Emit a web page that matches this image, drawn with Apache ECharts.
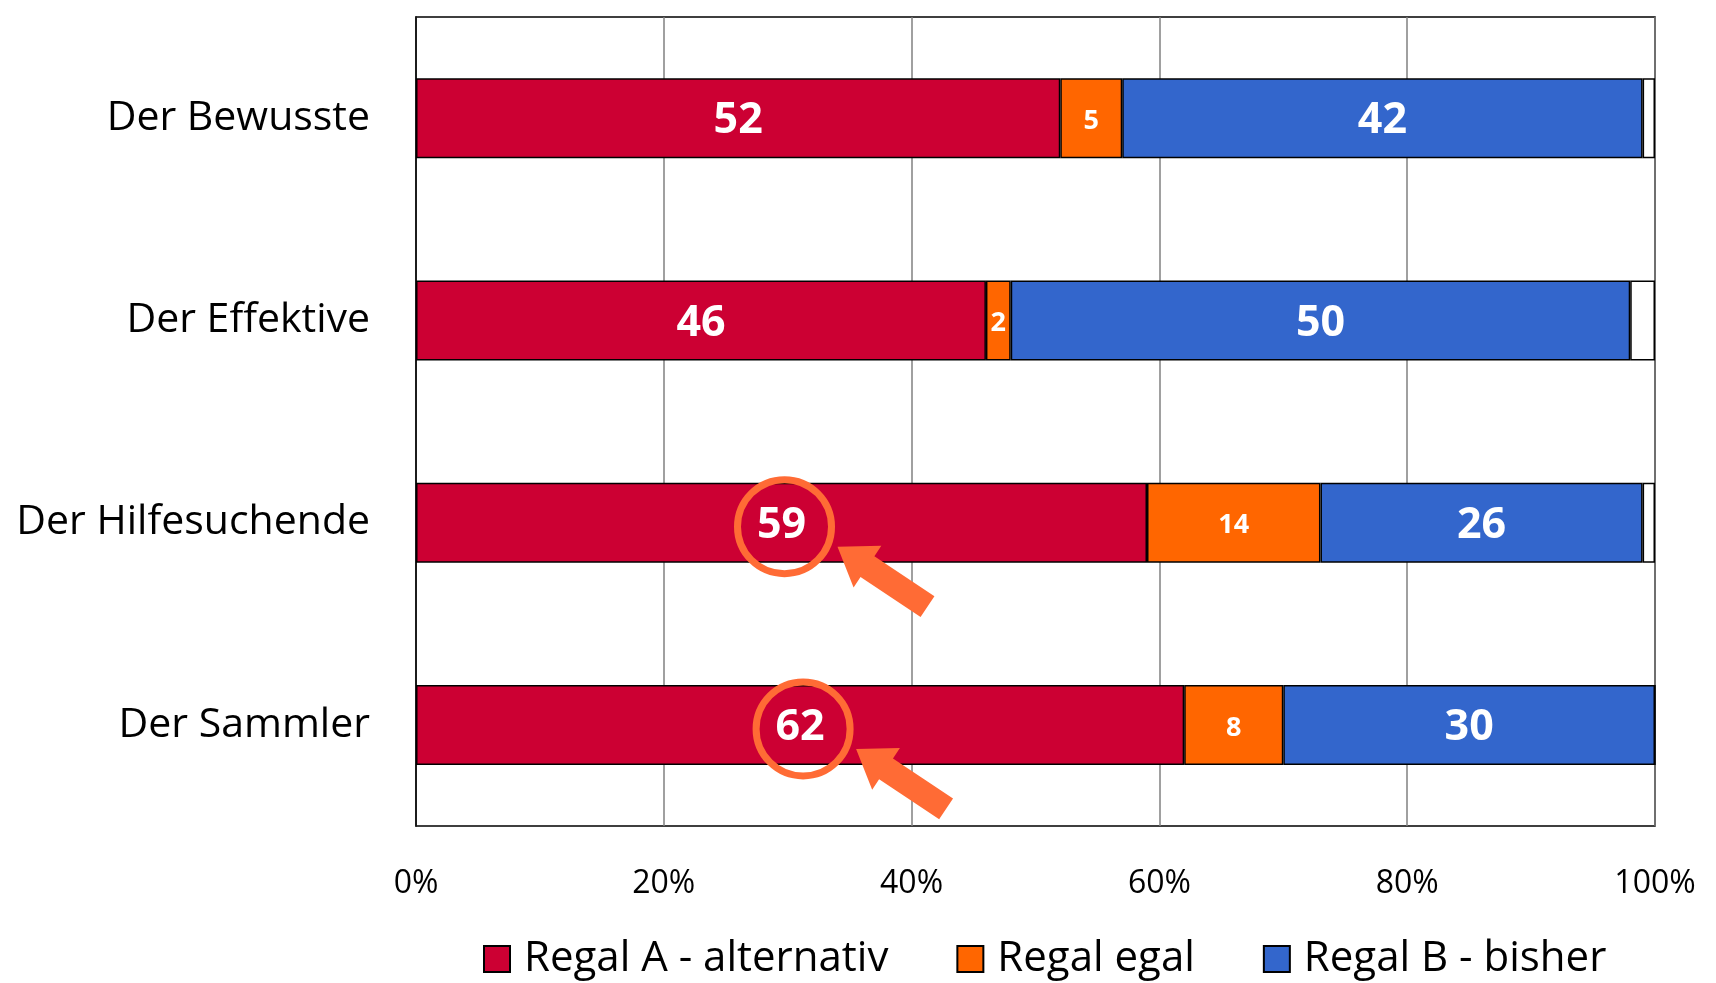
<!DOCTYPE html>
<html>
<head>
<meta charset="utf-8">
<script src="https://cdn.jsdelivr.net/npm/echarts@6/dist/echarts.min.js"></script>
<style>
  html, body { margin: 0; padding: 0; background: #fff; }
  #main { width: 1716px; height: 983px; }
</style>
</head>
<body>
<div id="main"></div>
<script>
// Daten
const categories = ['Der Bewusste', 'Der Effektive', 'Der Hilfesuchende', 'Der Sammler'];
const regalA = [52, 46, 59, 62];
const regalEgal = [5, 2, 14, 8];
const regalB = [42, 50, 26, 30];
const rest = [1, 2, 1, 0]; // weisse Luecke bis 100%
const xTicks = [0, 20, 40, 60, 80, 100];
// markierte Werte (Kreis + Pfeil)
const highlights = ['Der Hilfesuchende', 'Der Sammler'];

const FONT = 'Open Sans';
const ORANGE_MARK = '#FF6B35';

let myChart = echarts.init(document.getElementById('main'));

function bigLabel(size) {
  return {
    show: true,
    position: 'inside',
    color: '#fff',
    fontFamily: FONT,
    fontWeight: 'bold',
    fontSize: size,
    offset: [0, 3]
  };
}

const border = { borderColor: '#000', borderWidth: 1.5 };

let option = {
  animation: false,
  backgroundColor: '#fff',
  textStyle: { fontFamily: FONT },
  grid: {
    left: 416, right: 61, top: 17, bottom: 157,
    show: true, borderColor: '#000', borderWidth: 1.5,
    containLabel: false
  },
  legend: {
    data: ['Regal A - alternativ', 'Regal egal', 'Regal B - bisher'],
    top: 933,
    left: 478,
    icon: 'rect',
    itemWidth: 26,
    itemHeight: 26,
    itemGap: 68,
    textStyle: { fontFamily: FONT, fontSize: 42, color: '#000', padding: [0, 0, 0, 9] }
  },
  xAxis: {
    type: 'value',
    min: 0,
    max: 100,
    interval: 20,
    axisLine: { show: false },
    axisTick: { show: false },
    splitLine: { show: true, lineStyle: { color: '#808080', width: 1.5 } },
    axisLabel: {
      formatter: function (v) { return xTicks.indexOf(v) >= 0 ? v + '%' : ''; },
      fontFamily: FONT, fontSize: 32, color: '#000', margin: 42
    }
  },
  yAxis: {
    type: 'category',
    data: categories,
    inverse: true,
    axisLine: { show: true, lineStyle: { color: '#000', width: 1.5 } },
    axisTick: { show: false },
    axisLabel: { fontFamily: FONT, fontSize: 41, color: '#000', margin: 46 }
  },
  series: [
    {
      name: 'Regal A - alternativ', type: 'bar', stack: 'x', barWidth: 80,
      data: regalA,
      itemStyle: Object.assign({ color: '#CC0033' }, border),
      label: bigLabel(43)
    },
    {
      name: 'Regal egal', type: 'bar', stack: 'x', barWidth: 80,
      data: regalEgal,
      itemStyle: Object.assign({ color: '#FF6600' }, border),
      label: bigLabel(27)
    },
    {
      name: 'Regal B - bisher', type: 'bar', stack: 'x', barWidth: 80,
      data: regalB,
      itemStyle: Object.assign({ color: '#3366CC' }, border),
      label: bigLabel(43)
    },
    {
      name: 'rest', type: 'bar', stack: 'x', barWidth: 80,
      data: rest,
      itemStyle: Object.assign({ color: '#fff' }, border),
      label: { show: false },
      silent: true
    }
  ]
};

myChart.setOption(option);

// Kreis um den Wert und Pfeil darauf
function arrowPoints(tail, tip, shaftW, headW, headL) {
  const dx = tip[0] - tail[0], dy = tip[1] - tail[1];
  const len = Math.sqrt(dx * dx + dy * dy);
  const ux = dx / len, uy = dy / len;
  const px = -uy, py = ux;
  const bx = tip[0] - ux * headL, by = tip[1] - uy * headL;
  return [
    [tail[0] + px * shaftW / 2, tail[1] + py * shaftW / 2],
    [bx + px * shaftW / 2, by + py * shaftW / 2],
    [bx + px * headW / 2, by + py * headW / 2],
    tip,
    [bx - px * headW / 2, by - py * headW / 2],
    [bx - px * shaftW / 2, by - py * shaftW / 2],
    [tail[0] - px * shaftW / 2, tail[1] - py * shaftW / 2]
  ];
}

let graphics = [];
highlights.forEach(function (cat) {
  const i = categories.indexOf(cat);
  const c = myChart.convertToPixel({ gridIndex: 0 }, [regalA[i] / 2, i]);
  graphics.push({
    type: 'circle',
    shape: { cx: c[0] + 3, cy: c[1] + 4, r: 47 },
    style: { fill: 'none', stroke: ORANGE_MARK, lineWidth: 7 },
    z: 100
  });
  graphics.push({
    type: 'polygon',
    shape: { points: arrowPoints([c[0] + 146, c[1] + 84], [c[0] + 56, c[1] + 24], 25, 50, 36) },
    style: { fill: ORANGE_MARK },
    z: 100
  });
});
myChart.setOption({ graphic: graphics });

window.onresize = function () {
  myChart.resize();
};
</script>
</body>
</html>
